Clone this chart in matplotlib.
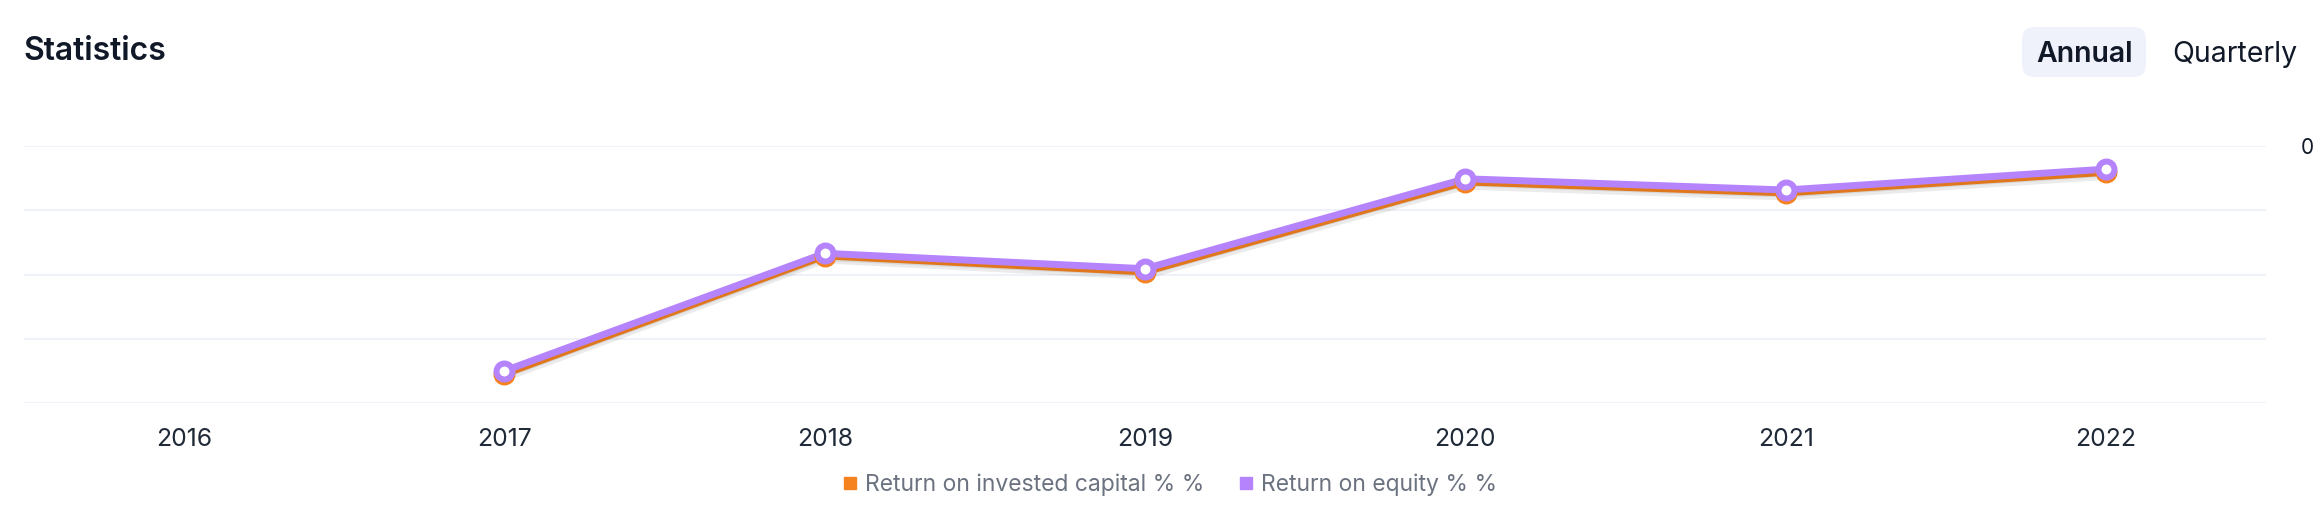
import matplotlib
matplotlib.use('Agg')
import matplotlib.pyplot as plt
import matplotlib.patheffects as pe
from matplotlib.patches import FancyBboxPatch
from matplotlib.lines import Line2D

# Data
years = ['2016', '2017', '2018', '2019', '2020', '2021', '2022']
roic = [None, -35.5, -17.1, -19.6, -5.6, -7.3, -4.1]   # Return on invested capital %
roe = [None, -35.0, -16.7, -19.1, -5.1, -6.85, -3.6]   # Return on equity %
y_ticks = [0, -10, -20, -30, -40]
y_tick_labels = ['0', '', '', '', '']

ORANGE = '#F5821F'
PURPLE = '#B584FC'
GRID = '#EEF1F7'
DARK = '#111827'
GRAY = '#6B7280'

W, H = 2324, 516
plt.rcParams['font.family'] = ['Inter', 'DejaVu Sans']

fig = plt.figure(figsize=(W / 100, H / 100), dpi=100)
ax = fig.add_axes([24 / W, 1 - 403 / H, (2266 - 24) / W, (403 - 146) / H])

xs = list(range(len(years)))


def plot_series(vals, color):
    pts = [(x, v) for x, v in zip(xs, vals) if v is not None]
    px = [p[0] for p in pts]
    py = [p[1] for p in pts]
    shadow = [pe.SimpleLineShadow(offset=(0, -3), shadow_color='#000000', alpha=0.08), pe.Normal()]
    ax.plot(px, py, color=color, lw=5.0, solid_capstyle='round', zorder=3,
            path_effects=shadow)
    ax.plot(px, py, linestyle='none', marker='o', markersize=11.5,
            markerfacecolor='white', markeredgecolor=color, markeredgewidth=4.3, zorder=4)


plot_series(roic, ORANGE)
plot_series(roe, PURPLE)

ax.set_xlim(-0.5, len(years) - 0.5)
ax.set_ylim(-40, 0)
ax.set_xticks(xs)
ax.set_xticklabels(years, fontsize=17.8, color='#1F2937')
ax.set_yticks(y_ticks)
ax.set_yticklabels(y_tick_labels, fontsize=15, color=DARK)
ax.yaxis.tick_right()
ax.tick_params(axis='both', length=0)
ax.tick_params(axis='x', pad=18)
ax.tick_params(axis='y', pad=25)
ax.grid(axis='y', color=GRID, lw=1.5)
ax.set_axisbelow(True)
for s in ax.spines.values():
    s.set_visible(False)
ax.patch.set_alpha(0)

# Title and period toggle
fig.text(23 / W, 1 - 60 / H, 'Statistics', fontsize=23, fontweight='semibold',
         color=DARK, ha='left', va='baseline')
btn = FancyBboxPatch((2022, H - 77), 124, 50, boxstyle='round,pad=0,rounding_size=13',
                     transform=None, facecolor='#EFF2FA', edgecolor='none')
fig.patches.append(btn)
fig.text(2084.5 / W, 1 - 62 / H, 'Annual', fontsize=20.5, fontweight='semibold',
         color=DARK, ha='center', va='baseline')
fig.text(2234.5 / W, 1 - 62 / H, 'Quarterly', fontsize=20.5, color=DARK,
         ha='center', va='baseline')

# Legend
handles = [
    Line2D([], [], linestyle='none', marker='s', markersize=8.5, color=ORANGE),
    Line2D([], [], linestyle='none', marker='s', markersize=8.5, color=PURPLE),
]
leg = fig.legend(handles, ['Return on invested capital % %', 'Return on equity % %'],
                 loc='center', bbox_to_anchor=(1170 / W, 1 - 485 / H), ncol=2,
                 frameon=False, fontsize=16.5, handlelength=0.6, handletextpad=0.35,
                 columnspacing=1.5, borderaxespad=0)
for t in leg.get_texts():
    t.set_color(GRAY)

fig.savefig('out.png', dpi=100)
